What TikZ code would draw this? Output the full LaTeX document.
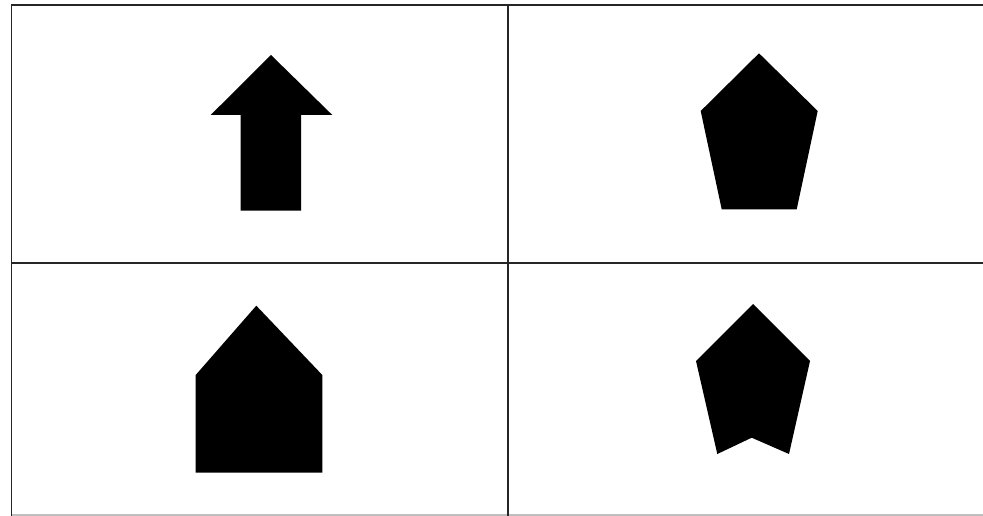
\documentclass[tikz,border=0pt]{standalone}
\begin{document}
\begin{tikzpicture}[x=1pt,y=-1pt,
  gridline/.style={draw=black!85,line width=1.8pt},
  shapefill/.style={fill=black}]
\useasboundingbox (0,0) rectangle (983,516);
\fill[white] (0,0) rectangle (983,516);
% grid
\draw[draw=black!25,line width=1.5pt] (11.5,515) -- (983,515);
\draw[gridline] (983,5) -- (11.5,5) -- (11.5,516);
\draw[gridline] (508.3,5) -- (508.3,516);
\draw[gridline] (11.5,263.3) -- (983,263.3);
% arrow
\fill[shapefill] (271,55) -- (332.3,115) -- (301,115) -- (301,210.7) -- (240.7,210.7) -- (240.7,115) -- (210.7,115) -- cycle;
% pentagon
\fill[shapefill] (759,53.3) -- (817.7,111) -- (796.7,209.3) -- (721.7,209.3) -- (700.7,111) -- cycle;
% house
\fill[shapefill] (256.3,305.7) -- (322.3,375) -- (322.3,472.7) -- (195.7,472.7) -- (195.7,375) -- cycle;
% notched pentagon
\fill[shapefill] (753,304) -- (810,361) -- (789,454) -- (751.7,437.7) -- (717.3,454) -- (696,361) -- cycle;
\end{tikzpicture}
\end{document}
